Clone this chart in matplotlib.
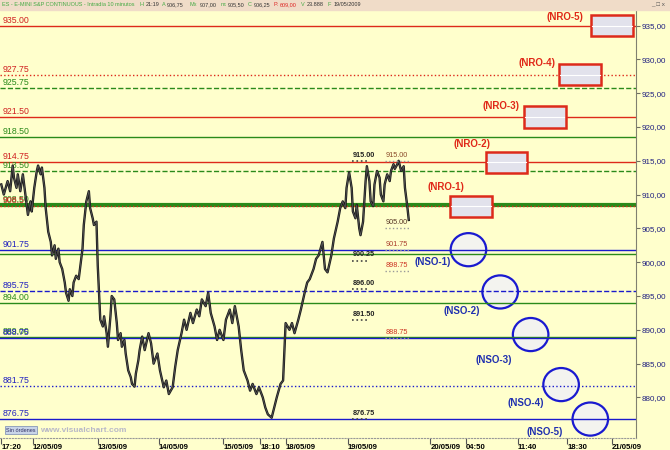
import matplotlib.pyplot as plt
from matplotlib.patches import Rectangle, Ellipse
import numpy as np

plt.rcParams['font.family'] = ['Liberation Sans', 'DejaVu Sans']

# ES 10 minute bars: bar index and close
bars = [0, 2, 5, 7, 9, 10, 12, 13, 15, 17, 18, 20, 21, 23, 24, 26, 28, 29, 31, 32,
        34, 35, 37, 39, 40, 42, 43, 45, 46, 48, 50, 51, 53, 54, 56, 57, 59, 61, 62, 64,
        65, 67, 69, 70, 72, 73, 75, 76, 78, 80, 81, 83, 84, 86, 87, 89, 91, 92, 94, 95,
        97, 98, 100, 102, 103, 105, 106, 108, 109, 111, 113, 116, 118, 120, 123, 125, 128, 130, 132, 135,
        137, 139, 142, 144, 146, 149, 151, 154, 156, 158, 161, 163, 165, 168, 170, 172, 175, 177, 180, 182,
        184, 187, 189, 191, 194, 196, 198, 201, 203, 206, 208, 210, 213, 215, 217, 220, 222, 224, 227, 229,
        231, 234, 236, 239, 241, 243, 246, 248, 250, 253, 255, 257, 260, 262, 265, 267, 269, 271, 272, 274,
        276, 277, 279, 280, 282, 283, 285, 287, 288, 290, 291, 293, 294, 296, 298, 299, 301, 302, 304, 306,
        307, 309, 310, 312, 313, 315, 317, 318, 320, 321]
closes = [911.5, 910.0, 912.0, 910.5, 914.3, 912.5, 911.0, 913.0, 910.5, 913.0, 911.5, 908.5, 907.0, 909.0, 907.5, 911.0, 913.5, 914.3, 913.0, 914.0,
          911.0, 908.0, 904.5, 903.0, 901.0, 902.5, 900.5, 902.0, 900.0, 899.0, 897.0, 895.5, 894.3, 896.0, 895.0, 897.0, 898.0, 897.5, 899.0, 902.0,
          905.5, 909.0, 910.5, 908.0, 906.5, 905.5, 906.0, 899.5, 891.5, 890.5, 892.0, 889.5, 887.5, 892.0, 895.0, 894.5, 891.0, 888.5, 889.5, 887.5,
          888.5, 886.5, 884.0, 883.0, 882.0, 881.6, 883.5, 885.5, 887.0, 889.0, 887.0, 889.5, 888.0, 885.0, 886.5, 884.0, 881.5, 882.5, 880.5, 881.5,
          884.5, 887.0, 889.5, 891.5, 890.0, 892.5, 891.0, 893.0, 892.0, 894.5, 893.5, 895.5, 892.5, 890.5, 888.5, 890.0, 888.5, 891.5, 893.0, 891.0,
          893.5, 890.5, 887.0, 884.0, 882.5, 881.0, 882.0, 880.5, 881.5, 880.0, 878.5, 877.5, 877.0, 878.5, 880.0, 882.0, 882.5, 891.0, 890.0, 891.0,
          889.5, 891.5, 893.0, 895.5, 897.0, 897.5, 899.0, 900.5, 901.0, 903.0, 899.0, 898.5, 901.0, 903.5, 906.0, 908.0, 909.0, 908.0, 911.0, 913.3,
          911.0, 907.5, 906.5, 908.5, 905.0, 904.0, 906.0, 912.0, 914.2, 912.0, 909.0, 908.3, 911.5, 913.5, 912.5, 910.0, 909.0, 911.5, 913.0, 912.0,
          913.5, 914.5, 913.8, 914.5, 915.0, 913.5, 914.2, 911.0, 908.0, 906.25]

# resistance (red), pivot (green) and support (blue) levels
red_levels = [935.00, 927.75, 921.50, 914.75, 908.25]
red_labels = ['935.00', '927.75', '921.50', '914.75', '908.5']
red_styles = ['-', ':', '-', '-', ':']
green_levels = [925.75, 918.50, 913.50, 908.50, 901.25, 894.00, 889.00]
green_labels = ['925.75', '918.50', '913.50', '908.50', '', '894.00', '889.00']
green_styles = ['--', '-', '--', '-', '-', '-', '-']
green_widths = [1.0, 1.0, 1.0, 3.0, 1.0, 1.0, 1.0]
blue_levels = [901.75, 895.75, 888.75, 881.75, 876.75]
blue_labels = ['901.75', '895.75', '888.75', '881.75', '876.75']
blue_styles = ['-', '--', '-', ':', '-']

# NRO boxes and NSO circles
nro_names = ['(NRO-1)', '(NRO-2)', '(NRO-3)', '(NRO-4)', '(NRO-5)']
nro_bar = [370, 398, 428, 456, 481]
nro_level = [908.25, 914.75, 921.50, 927.75, 935.00]
nro_lbl_bar = [350, 371, 394, 422, 444]
nro_lbl_y = [911.1, 917.5, 923.1, 929.45, 936.3]
nso_names = ['(NSO-1)', '(NSO-2)', '(NSO-3)', '(NSO-4)', '(NSO-5)']
nso_bar = [368, 393, 417, 441, 464]
nso_level = [901.85, 895.6, 889.3, 881.9, 876.8]
nso_lbl_bar = [340, 363, 388, 413, 428]
nso_lbl_y = [900.0, 892.8, 885.5, 879.2, 874.9]

# small value notes
notes_l = [915.00, 900.25, 896.00, 891.50, 876.75]
notes_r = [915.00, 905.00, 901.75, 898.75, 888.75]
notes_r_col = ['#8a4a2a', '#553322', '#a83a2a', '#cc3322', '#cc3322']

xtick_pos = [0, 25, 76, 124, 175, 204, 224, 273, 338, 366, 407, 446, 481]
xtick_lab = ['17:20', '12/05/09', '13/05/09', '14/05/09', '15/05/09', '18:10', '18/05/09',
             '19/05/09', '20/05/09', '04:50', '11:40', '18:30', '21/05/09']
ytick_vals = [880, 885, 890, 895, 900, 905, 910, 915, 920, 925, 930, 935]

RED = '#dd2a1a'
GREEN = '#2a8a1a'
BLUE = '#1a1acc'

fig = plt.figure(figsize=(6.7, 4.5), dpi=100, facecolor='#ffffcc')
ax = fig.add_axes([0, 12 / 450, 636 / 670, 428 / 450])
ax.set_facecolor('#ffffcc')
ax.set_xlim(-1, 500)
ax.set_ylim(874.0, 937.3)

ytr = ax.get_yaxis_transform()
for lev, st, w, lab in zip(green_levels, green_styles, green_widths, green_labels):
    ax.axhline(lev, color=GREEN, ls=st, lw=w, zorder=2)
    if lab:
        ax.text(0.004, lev + 0.15, lab, transform=ytr, color=GREEN, fontsize=6.3, va='bottom', ha='left')
for lev, st, lab in zip(red_levels, red_styles, red_labels):
    ax.axhline(lev, color=RED, ls=st, lw=1.0, zorder=2.1)
    ax.text(0.004, lev + 0.15, lab, transform=ytr, color='#d02020', fontsize=6.3, va='bottom', ha='left')
for lev, st, lab in zip(blue_levels, blue_styles, blue_labels):
    ax.axhline(lev, color=BLUE, ls=st, lw=1.0, zorder=2.1)
    ax.text(0.004, lev + 0.15, lab, transform=ytr, color='#2020c0', fontsize=6.3, va='bottom', ha='left')

# price
ax.plot(bars, closes, color='#1a1a1a', lw=1.7, zorder=3)
ax.plot(bars, closes, color='#888888', lw=0.5, zorder=3.1, alpha=0.6)

# circles (behind level lines)
for nm, b, lev, lb, ly in zip(nso_names, nso_bar, nso_level, nso_lbl_bar, nso_lbl_y):
    ax.add_patch(Ellipse((b, lev), 28, 4.9, facecolor='#f3f3ef', edgecolor='#1a1ad0', lw=1.6, zorder=1.5))
    ax.text(lb, ly, nm, color='#2030b0', fontsize=7, fontweight='bold', ha='center', va='center', zorder=5)

# boxes (over level lines)
for nm, b, lev, lb, ly in zip(nro_names, nro_bar, nro_level, nro_lbl_bar, nro_lbl_y):
    ax.add_patch(Rectangle((b - 16.5, lev - 1.6), 33, 3.2, facecolor='#e2e2ec', edgecolor=RED,
                           lw=1.8, zorder=4))
    ax.plot([b - 15.5, b + 15.5], [lev, lev], color='white', lw=0.8, zorder=4.1)
    ax.text(lb, ly, nm, color='#e02818', fontsize=7, fontweight='bold', ha='center', va='center', zorder=5)

# value notes with dotted underline
for v in notes_l:
    ax.plot([276, 290], [v, v], color='#444444', ls=':', lw=1.2, zorder=4)
    ax.text(277, v + 0.3, f'{v:.2f}', color='#222222', fontsize=5.2, fontweight='bold', va='bottom', zorder=5)
for v, c in zip(notes_r, notes_r_col):
    ax.plot([302, 321], [v, v], color='#999999', ls=':', lw=1.0, zorder=4)
    ax.text(303, v + 0.3, f'{v:.2f}', color=c, fontsize=5.2, va='bottom', zorder=5)

# axes styling
ax.yaxis.tick_right()
ax.set_yticks(ytick_vals)
ax.set_yticklabels([f'{v:.2f}'.replace('.', ',') for v in ytick_vals])
ax.tick_params(axis='y', length=3, pad=1, labelsize=5.8, colors='#707060', labelcolor='#202080')
ax.set_xticks(xtick_pos)
ax.set_xticklabels(xtick_lab)
for t in ax.get_xticklabels():
    t.set_ha('left')
    t.set_fontweight('bold')
ax.tick_params(axis='x', length=4, pad=0.5, labelsize=5.6, colors='#555555', labelcolor='black')
for s in ['top', 'left']:
    ax.spines[s].set_visible(False)
ax.spines['right'].set_color('#808070')
ax.spines['bottom'].set_color('#999999')
ax.spines['bottom'].set_linestyle(':')

# header bar
fig.patches.append(Rectangle((0, 1 - 10 / 450), 1, 10 / 450, transform=fig.transFigure,
                             color='#f0dcc8', zorder=0))
hy = 1 - 5 / 450
head = [(2, 'ES - E-MINI S&P CONTINUOUS - Intradía 10 minutos', '#44aa44'), (140, 'H', '#44aa44'),
        (146, '21:19', '#333333'), (162, 'A', '#44aa44'), (167, '906,75', '#333333'), (189, 'Mx', '#44aa44'),
        (200, '907,00', '#333333'), (221, 'm:', '#44aa44'), (228, '905,50', '#333333'), (248, 'C', '#44aa44'),
        (254, '906,25', '#333333'), (274, 'P:', '#dd2222'), (280, '609,00', '#dd2222'), (301, 'V', '#44aa44'),
        (307, '23.888', '#333333'), (328, 'F', '#44aa44'), (334, '19/05/2009', '#333333')]
for hx, txt, c in head:
    fig.text(hx / 670, hy, txt, fontsize=4.0, color=c, va='center', ha='left')
fig.text(651 / 670, hy, '_ \u25a1 x', fontsize=4.5, color='#555555', va='center', ha='left')

# footer
fig.text(6 / 670, 1 - 430 / 450, 'Sin órdenes', fontsize=4, color='#333366', va='center', ha='left',
         bbox=dict(boxstyle='square,pad=0.2', facecolor='#c8d4e8', edgecolor='#8898b8', lw=0.6))
fig.text(40 / 670, 1 - 430 / 450, 'www.visualchart.com', fontsize=6, color='#b8b8c8', fontweight='bold',
         va='center', ha='left')

fig.savefig('out.png', dpi=100, facecolor=fig.get_facecolor())
